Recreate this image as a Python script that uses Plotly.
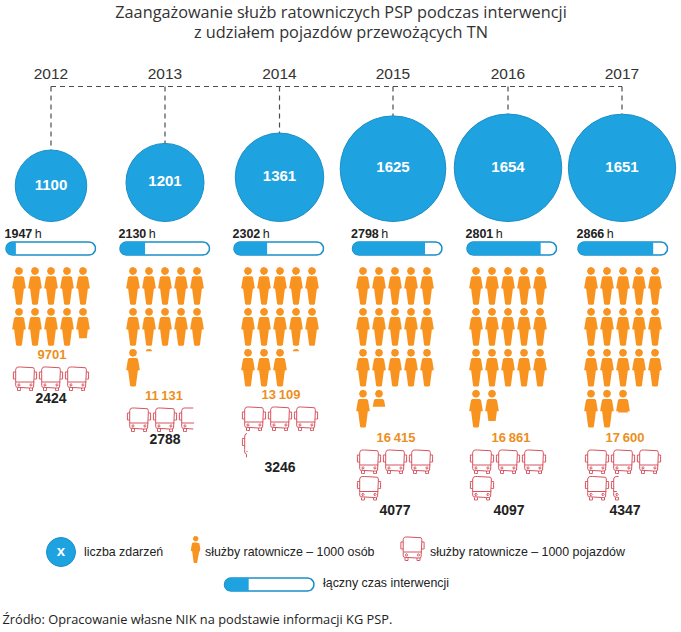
#!/usr/bin/env python3
import numpy as np
import plotly.graph_objects as go

# data
years = ["2012", "2013", "2014", "2015", "2016", "2017"]
incidents = [1100, 1201, 1361, 1625, 1654, 1651]
hours = [1947, 2130, 2302, 2798, 2801, 2866]
hours_bar_share = [0.11, 0.28, 0.37, 0.81, 0.823, 0.84]
staff = [9701, 11131, 13109, 16415, 16861, 17600]
staff_icons = [9.8, 11.06, 13.06, 16.45, 16.83, 17.6]
vehicles = [2424, 2788, 3246, 4077, 4097, 4347]
vehicle_icons = [3, 2.65, 3.2, 4, 4, 4.33]

title_lines = ["Zaangażowanie służb ratowniczych PSP podczas interwencji",
               "z udziałem pojazdów przewożących TN"]
source_text = "Źródło: Opracowanie własne NIK na podstawie informacji KG PSP."

BLUE = "#1fa3e0"
BLUE_EDGE = "#1b8ec6"
ORANGE = "#f7931e"
ORANGE_TEXT = "#ec8f22"
RED = "#d6545f"
DARK = "#222222"
FONT = "Liberation Sans"

# layout, in pixels of the 681x632 page
circle_x = [51, 165, 279.5, 393, 508, 622]
icon_x = [51, 165, 280, 395, 508, 623]
bar_x = [6, 120, 234, 352.5, 467, 578]
staff_label_y = [356, 397, 396, 439, 439, 439]
staff_label_x = [52, 164, 281, 396, 511, 625]
vehicle_label_y = [399, 440, 468, 511, 511, 511]
vehicle_label_x = [51, 165, 280, 395, 509, 625]
CIRCLE_SCALE = 0.065
CIRCLE_BOTTOM = 221.5
BAR_W, BAR_H = 89.5, 13
PERSON_H = 37.7
LEGEND_SIZE = 12.4


def arc(cx, cy, r, a0, a1, n=8):
    t = np.radians(np.linspace(a0, a1, n))
    return np.column_stack([cx + r * np.cos(t), cy + r * np.sin(t)])


def round_rect(x0, y0, x1, y1, r):
    return np.vstack([arc(x0 + r, y0 + r, r, 180, 270), arc(x1 - r, y0 + r, r, 270, 360),
                      arc(x1 - r, y1 - r, r, 0, 90), arc(x0 + r, y1 - r, r, 90, 180)])


def clip(poly, axis, cut):
    # keep the part of a closed polygon below cut on the given axis
    out = []
    for a, b in zip(poly, np.roll(poly, -1, axis=0)):
        if a[axis] <= cut:
            out.append(a)
        if (a[axis] <= cut) != (b[axis] <= cut):
            out.append(a + (b - a) * (cut - a[axis]) / (b[axis] - a[axis]))
    return np.array(out) if out else np.empty((0, 2))


head = arc(0, 0, 3.9, 0, 360, 24)[:-1]
right = np.array([[0, 5.2], [3.6, 5.2], [5.0, 6.2], [6.3, 13], [6.8, 17], [6.0, 17.8], [4.9, 17.4],
                  [2.9, 33], [1.8, 33.9], [0, 33.9]])
body = np.vstack([right, right[-2:0:-1] * [-1, 1]])

bus_lines = [
    round_rect(-9.3, 0, 9.3, 21, 2.5),
    np.array([[-9.3, 5], [-11.6, 5], [-11.6, 12], [-9.3, 12]]),
    np.array([[9.3, 5], [11.6, 5], [11.6, 12], [9.3, 12]]),
    np.array([[-9.3, 15], [9.3, 15]]),
    arc(-6, 18, 1.2, 0, 360, 12),
    arc(6, 18, 1.2, 0, 360, 12),
    np.array([[-7.5, 21], [-7.5, 23.5], [-4.5, 23.5], [-4.5, 21]]),
    np.array([[7.5, 21], [7.5, 23.5], [4.5, 23.5], [4.5, 21]]),
]
bus_lines[0] = np.vstack([bus_lines[0], bus_lines[0][:1]])


def join(parts):
    xs, ys = [], []
    for p in parts:
        if len(p):
            xs += list(p[:, 0]) + [None]
            ys += list(p[:, 1]) + [None]
    return xs, ys


def person_parts(x, y, share=1.0, k=1.0):
    cut = (-3.9 + share * PERSON_H)
    return [clip(head, 1, cut) * k + [x, y], clip(body, 1, cut) * k + [x, y]]


def bus_parts(x, y, share=1.0, k=1.0):
    cut = -11.6 + share * 23.2
    out = []
    for line in bus_lines:
        t = np.linspace(0, len(line) - 1, (len(line) - 1) * 6 + 1)
        dense = np.column_stack([np.interp(t, np.arange(len(line)), line[:, i]) for i in (0, 1)])
        inside = dense[:, 0] <= cut
        start = None
        for i in range(len(dense) + 1):
            if i < len(dense) and inside[i]:
                start = i if start is None else start
            elif start is not None:
                out.append(dense[start:i] * k + [x, y])
                start = None
    return out


def bar_traces(x, y, share):
    outline = round_rect(x, y, x + BAR_W, y + BAR_H, BAR_H / 2)
    filled = clip(outline, 0, x + share * BAR_W)
    return [go.Scatter(x=list(outline[:, 0]) + [outline[0, 0]], y=list(outline[:, 1]) + [outline[0, 1]],
                       mode="lines", fill="toself", fillcolor="white",
                       line=dict(color=BLUE_EDGE, width=1.5), hoverinfo="skip"),
            go.Scatter(x=filled[:, 0], y=filled[:, 1],
                       mode="lines", fill="toself", fillcolor=BLUE,
                       line=dict(color=BLUE, width=0), hoverinfo="skip")]


def label(x, y, text, size, color=DARK, pos="middle center", family=FONT):
    return go.Scatter(x=[x], y=[y], text=[text], mode="text", textposition=pos,
                      textfont=dict(family=family, size=size, color=color), hoverinfo="skip")


fig = go.Figure()

# dashed connector
sizes = [v * CIRCLE_SCALE for v in incidents]
circle_y = [CIRCLE_BOTTOM - s / 2 for s in sizes]
dash_x, dash_y = [circle_x[0], circle_x[-1], None], [86.5, 86.5, None]
for x, y, s in zip(circle_x, circle_y, sizes):
    dash_x += [x, x, None]
    dash_y += [86.5, y - s / 2, None]
fig.add_trace(go.Scatter(x=dash_x, y=dash_y, mode="lines", hoverinfo="skip",
                         line=dict(color="#4d4d4d", width=1.2, dash="5px,4px")))

for x, yr in zip(circle_x, years):
    fig.add_trace(label(x, 75, yr, 15.5, "#333333"))

# circles
fig.add_trace(go.Scatter(x=circle_x, y=circle_y, mode="markers+text", text=[f"<b>{v}</b>" for v in incidents],
                         textposition="middle center", hoverinfo="skip",
                         textfont=dict(family=FONT, size=15, color="white"),
                         marker=dict(size=sizes, sizemode="diameter", color=BLUE, opacity=1,
                                     line=dict(color=BLUE_EDGE, width=1))))

# hour bars
for x, h, share in zip(bar_x, hours, hours_bar_share):
    fig.add_traces(bar_traces(x, 242, share))
    fig.add_trace(label(x - 1.5, 235, f"<b>{h}</b>\u2009h", 12.5, pos="middle right"))

# people and buses
people, buses = [], []
for i, cx in enumerate(icon_x):
    for n in range(int(np.ceil(staff_icons[i]))):
        row, col = divmod(n, 5)
        people += person_parts(cx + (col - 2) * 16, 271 + row * 40.9, min(1, staff_icons[i] - n))
    # rows of buses start where the staff rows end
    top = staff_label_y[i] + 11
    for n in range(int(np.ceil(vehicle_icons[i]))):
        row, col = divmod(n, 3)
        buses += bus_parts(cx + (col - 1) * 26, top + row * 26.5, min(1, vehicle_icons[i] - n))
    staff_text = f"{staff[i]:,}".replace(",", "\u2009") if staff[i] >= 10000 else str(staff[i])
    fig.add_trace(label(staff_label_x[i], staff_label_y[i], f"<b>{staff_text}</b>", 13, ORANGE_TEXT))
    fig.add_trace(label(vehicle_label_x[i], vehicle_label_y[i], f"<b>{vehicles[i]}</b>", 14))

px, py = join(people)
fig.add_trace(go.Scatter(x=px, y=py, mode="lines", fill="toself", fillcolor=ORANGE,
                         line=dict(color=ORANGE, width=0), hoverinfo="skip"))
bx, by = join(buses)
fig.add_trace(go.Scatter(x=bx, y=by, mode="lines", line=dict(color=RED, width=1), hoverinfo="skip"))

# legend
fig.add_trace(go.Scatter(x=[61], y=[552], mode="markers+text", text=["<b>x</b>"], textposition="middle center",
                         textfont=dict(family=FONT, size=15, color="white"), hoverinfo="skip",
                         marker=dict(size=29, color=BLUE, line=dict(color=BLUE_EDGE, width=1))))
fig.add_trace(label(84, 553, "liczba zdarzeń", LEGEND_SIZE, pos="middle right"))
kx, ky = join(person_parts(195.7, 538.7, k=0.72))
fig.add_trace(go.Scatter(x=kx, y=ky, mode="lines", fill="toself", fillcolor=ORANGE,
                         line=dict(color=ORANGE, width=0), hoverinfo="skip"))
fig.add_trace(label(205, 553, "służby ratownicze – 1000 osób", LEGEND_SIZE, pos="middle right"))
kx, ky = join(bus_parts(412.5, 537))
fig.add_trace(go.Scatter(x=kx, y=ky, mode="lines", line=dict(color=RED, width=1), hoverinfo="skip"))
fig.add_trace(label(430, 553, "służby ratownicze – 1000 pojazdów", LEGEND_SIZE, pos="middle right"))
fig.add_traces(bar_traces(224.5, 578, 0.27))
fig.add_trace(label(323, 584, "łączny czas interwencji", LEGEND_SIZE, pos="middle right"))

# title and source
for y, line in zip([14, 34], title_lines):
    fig.add_trace(label(341, y, line, 16.3, "#333333", family="Open Sans"))
fig.add_trace(label(2.5, 620.5, source_text, 12.8, "#222222", pos="middle right", family="Open Sans"))

fig.update_layout(width=681, height=632, margin=dict(l=0, r=0, t=0, b=0), showlegend=False,
                  paper_bgcolor="white", plot_bgcolor="white")
fig.update_xaxes(range=[0, 681], visible=False)
fig.update_yaxes(range=[632, 0], visible=False)

fig.write_html("out.html", config={"displayModeBar": False}, post_script="document.body.style.margin='0';")
